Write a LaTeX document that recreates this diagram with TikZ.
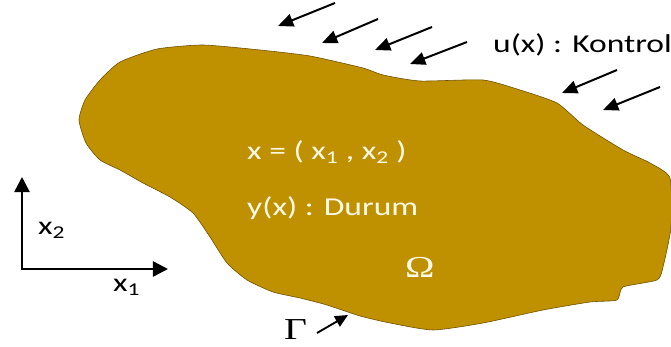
\documentclass[tikz,border=0pt]{standalone}
\usepackage{fontspec}
\setmainfont{Carlito}[FakeStretch=1.3]
\newfontfamily\greekfont{Liberation Serif}[FakeStretch=1.3]
\usetikzlibrary{arrows.meta}
\definecolor{domaingold}{RGB}{191,144,0}
\definecolor{domainedge}{RGB}{110,80,0}
\definecolor{labelcream}{RGB}{255,250,232}

\begin{document}
\begin{tikzpicture}[x=0.03cm,y=-0.03cm,
  ctrl/.style={-{Triangle[length=13pt,width=11pt]}, line width=1.7pt},
  axis/.style={{Triangle[length=13pt,width=13pt]}-{Triangle[length=13pt,width=13pt]}, line width=2.2pt},
  bnd/.style={-{Triangle[length=11pt,width=10pt]}, line width=1.6pt},
  inlabel/.style={text=labelcream, font=\fontsize{22}{26}\selectfont, anchor=base west, inner sep=0pt},
  outlabel/.style={font=\fontsize{22}{26}\selectfont, anchor=base west, inner sep=0pt},
  greek/.style={font=\fontsize{26}{30}\greekfont, anchor=base west, inner sep=0pt}]
\useasboundingbox (0,0) rectangle (671,347);

\filldraw[fill=domaingold, draw=domainedge, line width=0.5pt]
  plot[smooth cycle, tension=0.35] coordinates {
  (79,120) (85,100) (100,80) (120,62) (157,49) (203,45) (260,50) (310,56)
  (363,68) (383,75) (420,81) (483,80) (520,90) (557,103) (583,125) (623,150)
  (650,163) (670,178) (671,227) (663,267) (657,280) (623,287) (617,300) (590,302)
  (543,310) (483,323) (433,330) (390,323) (360,316) (327,305) (300,298) (273,292)
  (247,280) (227,263) (210,237) (193,213) (170,197) (143,183) (120,170) (100,160)
  (86,143)};

\node[inlabel] (point) at (247,160) {x = ( x\textsubscript{1} , x\textsubscript{2} )};
\node[inlabel] (state) at (247,216) {y(x) : Durum};
\node[greek, text=labelcream] (omega) at (405,278) {Ω};
\node[outlabel] (control) at (493,53) {u(x) : Kontrol};
\node[greek] (gamma) at (284,340) {Γ};
\node[outlabel] (xtwo) at (38,235) {x\textsubscript{2}};
\node[outlabel] (xone) at (113,292) {x\textsubscript{1}};

\coordinate (origin) at (22,269);
\coordinate (xonetip) at (168,269);
\coordinate (xtwotip) at (22,177);
\draw[axis] (xtwotip) -- (origin) -- (xonetip);

\coordinate (gtail) at (317,333);
\coordinate (ghead) at (348,315);
\draw[bnd] (gtail) -- (ghead);

\coordinate (c1s) at (335,3);
\coordinate (c1e) at (278,26);
\coordinate (c2s) at (378,19);
\coordinate (c2e) at (322,43);
\coordinate (c3s) at (432,27);
\coordinate (c3e) at (375,50);
\coordinate (c4s) at (467,42);
\coordinate (c4e) at (410,64);
\coordinate (c5s) at (617,70);
\coordinate (c5e) at (562,93);
\coordinate (c6s) at (660,87);
\coordinate (c6e) at (603,110);
\draw[ctrl] (c1s) -- (c1e);
\draw[ctrl] (c2s) -- (c2e);
\draw[ctrl] (c3s) -- (c3e);
\draw[ctrl] (c4s) -- (c4e);
\draw[ctrl] (c5s) -- (c5e);
\draw[ctrl] (c6s) -- (c6e);
\end{tikzpicture}
\end{document}
